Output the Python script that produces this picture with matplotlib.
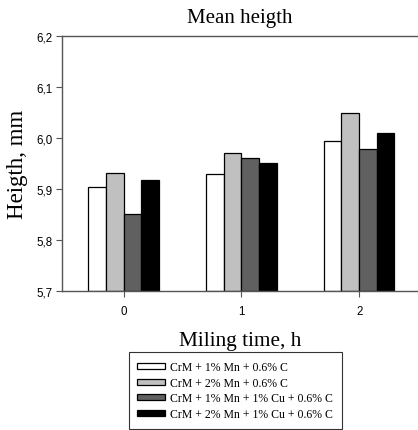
import numpy as np
import matplotlib
matplotlib.use("Agg")
import matplotlib.pyplot as plt

times = [0, 1, 2]
labels = ["CrM + 1% Mn + 0.6% C",
          "CrM + 2% Mn + 0.6% C",
          "CrM + 1% Mn + 1% Cu + 0.6% C",
          "CrM + 2% Mn + 1% Cu + 0.6% C"]
mn1 = [5.904, 5.930, 5.994]
mn2 = [5.932, 5.970, 6.048]
mn1cu = [5.850, 5.960, 5.978]
mn2cu = [5.917, 5.950, 6.010]
colors = ["white", "#c0c0c0", "#606060", "black"]

fig = plt.figure(figsize=(4.18, 4.31), dpi=100)
ax = fig.add_axes([0.148, 0.3225, 0.852, 0.592])

x = np.arange(len(times))
w = 0.15
for i, vals in enumerate([mn1, mn2, mn1cu, mn2cu]):
    ax.bar(x + (i - 1.5) * w, np.array(vals) - 5.7, w, bottom=5.7,
           color=colors[i], edgecolor="black", linewidth=0.9, label=labels[i])

ax.set_xlim(-0.525, 2.5)
ax.set_ylim(5.7, 6.2)
ax.set_xticks(x)
ax.set_xticklabels([str(t) for t in times])
ax.set_yticks([5.7, 5.8, 5.9, 6.0, 6.1, 6.2])
ax.set_yticklabels(["5,7", "5,8", "5,9", "6,0", "6,1", "6,2"])
ax.tick_params(labelsize=8.3, length=4, width=0.8, color="#555555", pad=3)
ax.tick_params(axis="x", pad=6)
for t in ax.get_xticklabels() + ax.get_yticklabels():
    t.set_fontfamily("Liberation Sans")
for s in ["left", "top", "bottom"]:
    ax.spines[s].set_color("#555555")
    ax.spines[s].set_linewidth(1.0)
ax.spines["right"].set_visible(False)

serif = "Liberation Serif"
ax.set_title("Mean heigth", fontfamily=serif, fontsize=15, pad=10)
ax.set_ylabel("Heigth, mm", fontfamily=serif, fontsize=16.5, labelpad=6)
ax.set_xlabel("Miling time, h", fontfamily=serif, fontsize=15.3, labelpad=10)

leg = fig.legend(loc="center", bbox_to_anchor=(0.563, 0.0916),
                 prop={"family": serif, "size": 8.5}, frameon=True,
                 fancybox=False, handlelength=2.3, handleheight=0.4,
                 labelspacing=0.3, borderpad=0.75, handletextpad=0.5,
                 borderaxespad=0)
leg.get_frame().set_edgecolor("black")
leg.get_frame().set_linewidth(0.8)

fig.savefig("out.png", dpi=100)
